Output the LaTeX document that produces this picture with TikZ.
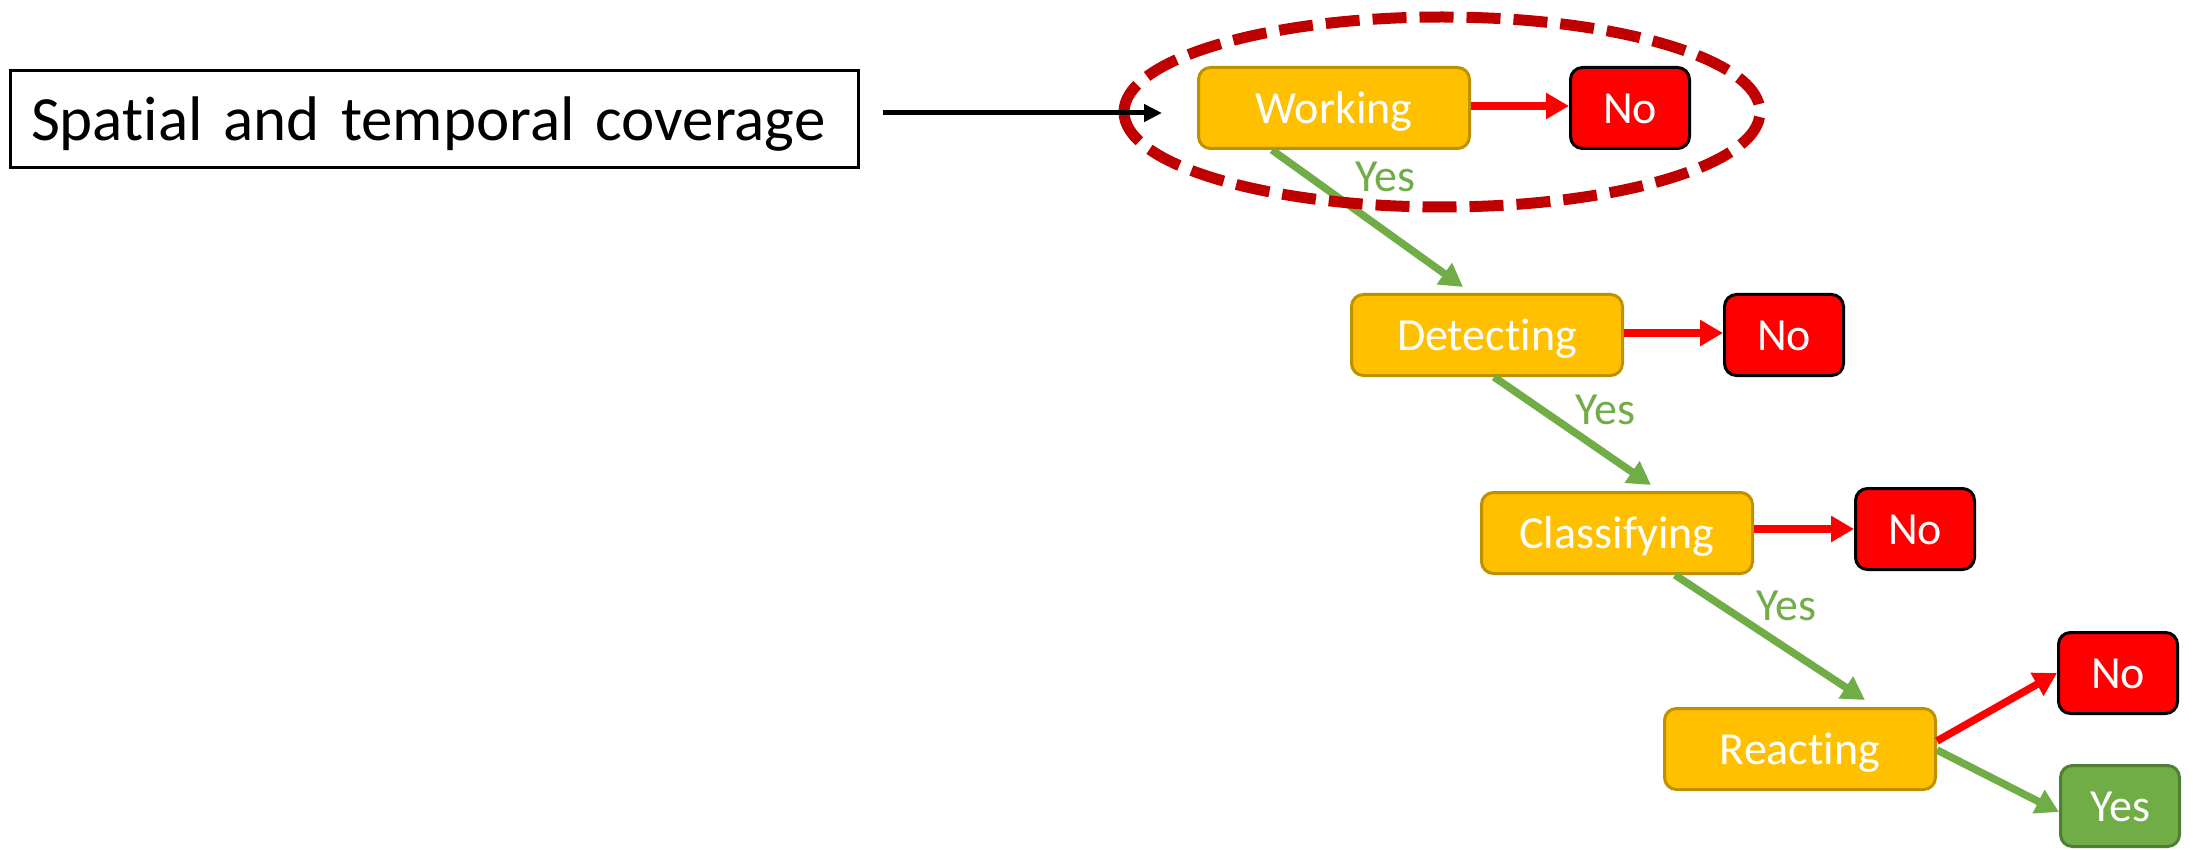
\documentclass[tikz,border=0pt]{standalone}
\usepackage{fontspec}
\setmainfont{Carlito}[Ligatures=CommonOff]
\usetikzlibrary{arrows.meta,calc}
\definecolor{gold}{HTML}{FFC000}
\definecolor{goldline}{HTML}{BF9000}
\definecolor{grn}{HTML}{70AD47}
\definecolor{grnline}{HTML}{507E32}
\definecolor{dred}{HTML}{C00000}
\begin{document}
\begin{tikzpicture}[x=1pt,y=-1pt,
  stage/.style={draw=goldline, line width=3pt, fill=gold, rounded corners=12pt,
    minimum width=271pt, minimum height=81pt, inner sep=0pt, text=white,
    font=\fontsize{46}{55}\selectfont, text height=31pt, text depth=0pt},
  nobox/.style={draw=black, line width=3pt, fill=red, rounded corners=12pt,
    minimum width=119pt, minimum height=81pt, inner sep=0pt, text=white,
    font=\fontsize{46}{55}\selectfont, text height=31pt, text depth=0pt},
  yesbox/.style={nobox, draw=grnline, fill=grn},
  yeslab/.style={text=grn, font=\fontsize{46}{55}\selectfont, inner sep=0pt,
    text height=31pt, text depth=0pt},
  srcbox/.style={draw=black, line width=3pt, minimum width=848pt, minimum height=97pt,
    text width=806pt, inner xsep=21pt, inner ysep=0pt, align=left,
    font=\fontsize{63}{75}\selectfont, text height=44pt, text depth=0pt},
  redarr/.style={draw=red, line width=7.5pt, -{Triangle[length=23pt,width=25pt]}},
  grnarr/.style={draw=grn, line width=7.5pt, -{Triangle[length=23pt,width=25pt]}},
  blkarr/.style={draw=black, line width=5pt, -{Triangle[length=18pt,width=17pt]}},
  hlring/.style={draw=dred, line width=11pt, dash pattern=on 34pt off 13pt},
]
\useasboundingbox[fill=white] (0,0) rectangle (2193,850);

\node[srcbox] (src) at (434,119) {Spatial and temporal coverage};

\node[stage] (work)  at (1334,108) {Working};
\node[stage] (det)   at (1487,335) {Detecting};
\node[stage] (cls)   at (1617,533) {Classifying};
\node[stage] (react) at (1800,749) {Reacting};

\node[nobox] (no1) at (1630,108) {No};
\node[nobox] (no2) at (1784,335) {No};
\node[nobox] (no3) at (1915,529) {No};
\node[nobox] (no4) at (2118,673) {No};
\node[yesbox] (yesb) at (2120,806) {Yes};

\node[yeslab] (y1) at (1385,176) {Yes};
\node[yeslab] (y2) at (1605,409) {Yes};
\node[yeslab] (y3) at (1786,605) {Yes};

\draw[redarr] ([yshift=2pt]work.east) -- ([yshift=2pt]no1.west);
\draw[redarr] ([yshift=2pt]det.east) -- ([yshift=2pt]no2.west);
\draw[redarr] (cls.east |- no3.west) -- (no3.west);
\draw[redarr] ([yshift=8pt]react.east) -- (no4.west);

\draw[grnarr] ([xshift=-62pt]work.south) -- ([xshift=-24pt,yshift=6pt]det.north);
\draw[grnarr] ([xshift=7pt]det.south) -- ([xshift=34pt,yshift=6pt]cls.north);
\draw[grnarr] ([xshift=58pt]cls.south) -- ([xshift=65pt,yshift=7pt]react.north);
\draw[grnarr] ([yshift=-1pt]react.east) -- ([yshift=-6pt]yesb.west);

\draw[hlring] (1124,112) arc[start angle=180, end angle=540, x radius=318pt, y radius=95pt];

\coordinate (tipin) at ([xshift=-35pt,yshift=-5pt]work.west);
\draw[blkarr] ([xshift=23pt,yshift=6pt]src.east) -- (tipin);
\end{tikzpicture}
\end{document}
